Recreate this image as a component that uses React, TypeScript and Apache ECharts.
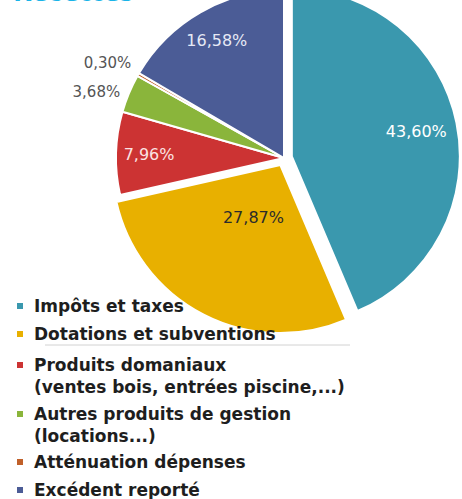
import React, { useEffect, useRef } from "react";
import * as echarts from "echarts";

const categories = [
  "Impôts et taxes",
  "Dotations et subventions",
  "Produits domaniaux",
  "Autres produits de gestion",
  "Atténuation dépenses",
  "Excédent reporté",
];
const legendLabels = [
  "Impôts et taxes",
  "Dotations et subventions",
  "Produits domaniaux\n(ventes bois, entrées piscine,...)",
  "Autres produits de gestion\n(locations...)",
  "Atténuation dépenses",
  "Excédent reporté",
];
const shares = [43.6, 27.87, 7.96, 3.68, 0.3, 16.58];
const colors = ["#3a98ae", "#e8b000", "#cc3333", "#8ab53b", "#c0602a", "#4b5c96"];
const exploded = [true, true, false, false, false, false];
const labelPlacement = ["ring", "core", "ring", "outside", "outside", "ring"];
const labelColors = ["#ffffff", "#2b2b2b", "#fbe3e3", "#555555", "#555555", "#e6e9f5"];
const outsideLineLength = [0, 0, 0, 4, 24, 0];
const outsideDistance = [5, 5, 5, 5, -14, 5];

const fmt = (v: number) => v.toFixed(2).replace(".", ",") + "%";

export default function App() {
  const ref = useRef<HTMLDivElement>(null);
  useEffect(() => {
    if (!ref.current) return;
    const chart = echarts.init(ref.current, null, { renderer: "svg" });
    const center = [284, 158];
    const R = 168;
    const labelFont = { fontFamily: "DejaVu Sans", fontSize: 16 };

    const overlay = (name: string, radius: number[], which: string) => ({
      type: "pie",
      name,
      center,
      radius,
      startAngle: 90,
      clockwise: true,
      silent: true,
      legendHoverLink: false,
      avoidLabelOverlap: false,
      itemStyle: { color: "transparent", borderWidth: 0 },
      emphasis: { disabled: true },
      labelLine: { show: false },
      z: 5,
      data: categories.map((c, i) => ({
        name: c,
        value: shares[i],
        label: {
          show: labelPlacement[i] === which,
          position: "inside",
          color: labelColors[i],
          ...labelFont,
          formatter: (p: any) => fmt(p.value),
        },
      })),
    });

    const legendBase = {
      orient: "vertical",
      left: 17,
      padding: 0,
      height: 100,
      itemWidth: 6,
      icon: "rect",
      selectedMode: false,
      itemStyle: { borderWidth: 0 },
      formatter: (n: string) => legendLabels[categories.indexOf(n)],
      textStyle: {
        fontFamily: "DejaVu Sans",
        fontWeight: "bold",
        fontSize: 17,
        color: "#1e1e1e",
        lineHeight: 22,
        padding: [0, 0, 0, 6],
      },
    };

    chart.setOption({
      animation: false,
      backgroundColor: "#ffffff",
      title: {
        text: "Recettes",
        left: 8,
        top: -29,
        textStyle: { color: "#1ab4e8", fontSize: 28, fontWeight: "bold", fontFamily: "Open Sans" },
      },
      legend: [
        { ...legendBase, top: 295, itemHeight: 6, itemGap: 6, data: categories.slice(0, 2) },
        {
          ...legendBase,
          top: 354,
          itemHeight: 44,
          itemGap: 5,
          icon: "path://M0 0l0 0M0 8h6v6h-6zM0 44l0 0",
          data: categories.slice(2, 4),
        },
        { ...legendBase, top: 451, itemHeight: 6, itemGap: 6, data: categories.slice(4, 6) },
      ],
      graphic: [
        {
          type: "line",
          silent: true,
          shape: { x1: 45, y1: 345, x2: 350, y2: 345 },
          style: { stroke: "#d2d2d2", lineWidth: 1 },
        },
      ],
      series: [
        {
          type: "pie",
          name: "Recettes",
          center,
          radius: [0, R],
          startAngle: 90,
          clockwise: true,
          selectedMode: "multiple",
          selectedOffset: 8,
          avoidLabelOverlap: false,
          itemStyle: { borderColor: "#ffffff", borderWidth: 2 },
          emphasis: { disabled: true },
          z: 2,
          data: categories.map((c, i) => ({
            name: c,
            value: shares[i],
            selected: exploded[i],
            itemStyle: { color: colors[i] },
            label: {
              show: labelPlacement[i] === "outside",
              position: "outside",
              color: labelColors[i],
              ...labelFont,
              fontSize: 15,
              distanceToLabelLine: outsideDistance[i],
              formatter: (p: any) => fmt(p.value),
            },
            labelLine: { show: false, length: outsideLineLength[i], length2: 0 },
          })),
        },
        overlay("ring-labels", [96, R], "ring"),
        overlay("core-labels", [0, 128], "core"),
      ],
    });
    return () => chart.dispose();
  }, []);
  return (
    <div
      ref={ref}
      style={{ position: "absolute", left: 0, top: 0, width: 462, height: 499 }}
    />
  );
}
